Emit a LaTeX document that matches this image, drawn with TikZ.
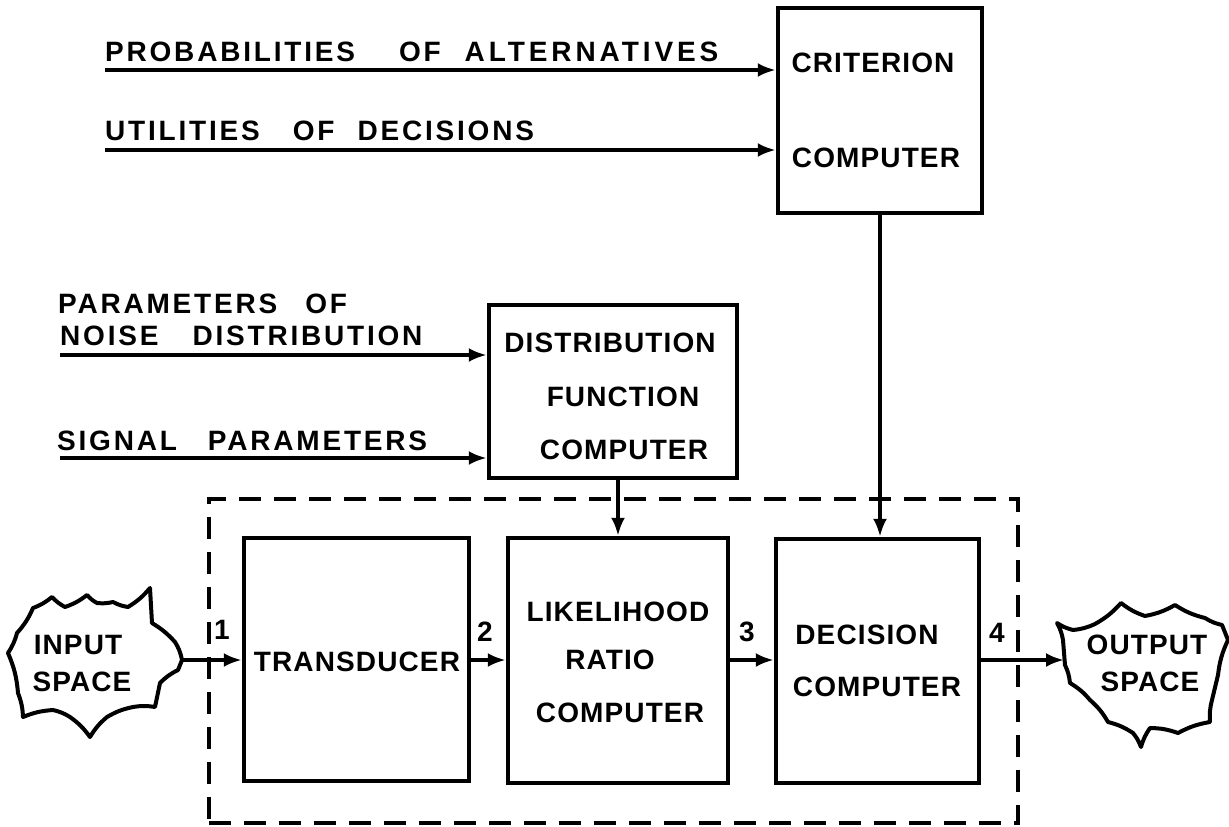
\documentclass[tikz,border=0pt]{standalone}
\usepackage{fontspec}
\setmainfont{Liberation Sans}
\newfontfamily\boxfont{Liberation Sans}[LetterSpace=4]
\newfontfamily\labfont{Liberation Sans}[LetterSpace=10]
\usetikzlibrary{arrows.meta}
\begin{document}
\begin{tikzpicture}[x=1pt,y=-1pt,
  blk/.style={draw, line width=4.5pt, inner sep=0pt, rectangle},
  dashbox/.style={draw, line width=4.5pt, dash pattern=on 22pt off 13pt, inner sep=0pt, rectangle},
  btxt/.style={inner sep=0pt, font={\boxfont\bfseries\fontsize{28}{33}\selectfont}},
  ltxt/.style={inner sep=0pt, anchor=base west, font={\labfont\bfseries\fontsize{28}{33}\selectfont}},
  arr/.style={line width=3.5pt, -{Latex[length=18pt,width=14pt]}},
  cloud/.style={line width=4pt, line join=round},
  sc/.style={bend right=9}]
\useasboundingbox[fill=white] (0,0) rectangle (1229,827);

% boxes
\node[blk, minimum width=204pt, minimum height=205pt] (crit) at (880,110.5) {};
\node[blk, minimum width=248pt, minimum height=173pt] (dist) at (613,391.5) {};
\node[dashbox, minimum width=809pt, minimum height=324pt] (sys) at (613.5,661) {};
\node[blk, minimum width=225pt, minimum height=243pt] (tr) at (356.5,659.5) {};
\node[blk, minimum width=220pt, minimum height=245pt] (lik) at (618,660.5) {};
\node[blk, minimum width=203pt, minimum height=244pt] (dec) at (877.5,661) {};

% box texts
\node[btxt] (critA) at (873,63) {CRITERION};
\node[btxt] (critB) at (876,158) {COMPUTER};
\node[btxt] (distA) at (610,343) {DISTRIBUTION};
\node[btxt] (distB) at (623,397) {FUNCTION};
\node[btxt] (distC) at (624,450) {COMPUTER};
\node[btxt] (trA) at (357,662) {TRANSDUCER};
\node[btxt] (likA) at (618,612) {LIKELIHOOD};
\node[btxt] (likB) at (610,660) {RATIO};
\node[btxt] (likC) at (620,713) {COMPUTER};
\node[btxt] (decA) at (867,635) {DECISION};
\node[btxt] (decB) at (877,687) {COMPUTER};

% input labels
\node[ltxt] (pa) at (105,61) {PROBABILITIES\hspace{44pt}OF\hspace{24pt}{\addfontfeature{LetterSpace=14}ALTERNATIVES}};
\node[ltxt] (ud) at (105,140) {UTILITIES\hspace{33pt}OF\hspace{23pt}DECISIONS};
\node[ltxt] (po) at (58,313) {PARAMETERS\hspace{28pt}OF};
\node[ltxt] (nd) at (60,345) {NOISE\hspace{34pt}DISTRIBUTION};
\node[ltxt] (sp) at (57,450) {SIGNAL\hspace{31pt}PARAMETERS};

\coordinate (pa0) at (105,70);
\coordinate (ud0) at (105,150);
\coordinate (nd0) at (60,355);
\coordinate (sp0) at (60,458);
\draw[arr] (pa0) -- (pa0 -| crit.west);
\draw[arr] (ud0) -- (ud0 -| crit.west);
\draw[arr] (nd0) -- (nd0 -| dist.west);
\draw[arr] (sp0) -- (sp0 -| dist.west);

% clouds
\draw[cloud] (17,633) to[sc] (33,608) to[sc] (52,597) to[sc] (65,607) to[sc] (87,595) to[sc] (97,603)
  to[sc] (113,602) to[sc] (128,607) to[sc] (150,588) -- (152,623) to[bend left=8] (175,642)
  to[bend left=10] (182,660) -- (178,670) to[sc] (160,683) -- (155,707) to[sc] (133,707) to[sc] (107,717)
  to[sc] (90,737) to[sc] (70,717) to[sc] (53,710) to[sc] (23,717) to[sc] (18,693) to[sc] (8,653) to[sc] cycle;
\coordinate (inR) at (182,660);
\node[btxt] (inA) at (78,645) {INPUT};
\node[btxt] (inB) at (82,682) {SPACE};

\draw[cloud] (1057,623) to[sc] (1073,630) to[sc] (1095,624) to[sc] (1121,603) to[sc] (1145,616)
  to[sc] (1175,605) to[sc] (1205,618) to[sc] (1222,625) -- (1228,640) to[sc] (1218,675)
  -- (1212,700) to[sc] (1210,722) to[sc] (1178,733) to[sc] (1150,728) to[sc] (1141,747)
  to[sc] (1133,733) to[sc] (1108,722) to[sc] (1090,700) to[sc] (1070,683) to[sc] (1065,665)
  -- (1063,640) to[sc] cycle;
\coordinate (outL) at (1064,660);
\node[btxt] (outA) at (1147,645) {OUTPUT};
\node[btxt] (outB) at (1150,682) {SPACE};

% main chain
\draw[arr] (inR) -- (inR -| tr.west);
\draw[arr] (tr.east |- 0,660) -- (lik.west |- 0,660);
\draw[arr] (lik.east |- 0,660) -- (dec.west |- 0,660);
\draw[arr] (dec.east |- 0,660) -- (outL);
\draw[arr] (lik.north |- dist.south) -- (lik.north);
\draw[arr] (crit.south) -- (crit.south |- dec.north);

% numbers
\node[btxt] (n1) at (222,630) {1};
\node[btxt] (n2) at (485,632) {2};
\node[btxt] (n3) at (747,632) {3};
\node[btxt] (n4) at (997,633) {4};
\end{tikzpicture}
\end{document}
